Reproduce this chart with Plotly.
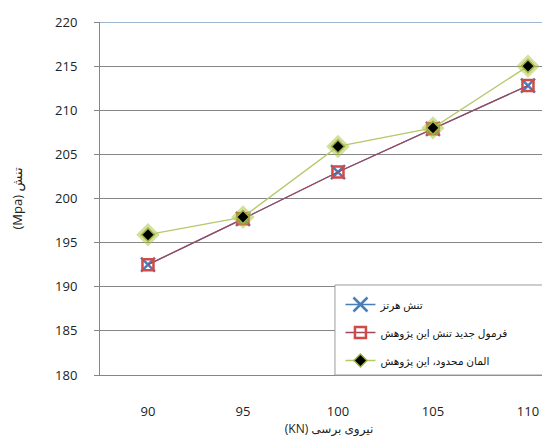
import plotly.graph_objects as go

categories = ["90", "95", "100", "105", "110"]
hertz = [192.5, 197.7, 203.0, 207.9, 212.8]
formula = [192.5, 197.7, 203.0, 207.9, 212.8]
fem = [195.9, 197.9, 205.9, 208.0, 215.0]
names = ["تنش هرتز", "فرمول جدید تنش این پژوهش", "المان محدود، این پژوهش"]
yticks = [180, 185, 190, 195, 200, 205, 210, 215, 220]

fig = go.Figure()
fig.add_trace(go.Scatter(
    x=categories, y=hertz, name=names[0], mode="lines+markers", legendgroup="a",
    line=dict(color="#4a7ebb", width=1.3),
    marker=dict(symbol="x-thin", size=14, line=dict(color="#4a7ebb", width=2.5), color="#4a7ebb"),
))
fig.add_trace(go.Scatter(
    x=categories, y=formula, name=names[1], mode="lines+markers", legendgroup="b",
    line=dict(color="#a0475a", width=1.3),
    marker=dict(symbol="square-open", size=11, line=dict(color="#d04a48", width=2.5), color="#d04a48"),
))
# glow for FEM markers
fig.add_trace(go.Scatter(
    x=categories, y=fem, mode="markers", showlegend=False, hoverinfo="skip", legendgroup="c",
    marker=dict(symbol="diamond", size=18, color="rgba(170,190,60,0.5)", line=dict(width=0)),
))
fig.add_trace(go.Scatter(
    x=categories, y=fem, name=names[2], mode="lines+markers", legendgroup="c",
    line=dict(color="#b5c96a", width=1.3),
    marker=dict(symbol="diamond", size=10, color="#000000", line=dict(color="#9bb53c", width=1.5)),
))

fig.update_layout(
    width=550, height=436,
    margin=dict(l=92, r=0, t=14, b=69),
    paper_bgcolor="white", plot_bgcolor="white",
    font=dict(family="Open Sans, DejaVu Sans", size=13, color="#222222"),
    showlegend=True,
    legend=dict(
        x=0.525, y=0.0, xanchor="left", yanchor="bottom",
        bgcolor="rgba(0,0,0,0)", borderwidth=0,
        font=dict(size=10.5, family="Noto Sans, DejaVu Sans", color="#111111"),
        traceorder="grouped", tracegroupgap=9,
    ),
    xaxis=dict(
        type="category", range=[-0.505, 4.316],
        showgrid=False, showline=True, linecolor="#868686", linewidth=1,
        ticks="", ticklabelstandoff=24,
        tickfont=dict(size=13),
        title=dict(text="(KN) نیروی برسی", font=dict(size=12), standoff=0),
    ),
    yaxis=dict(
        range=[180, 220], tickvals=yticks,
        showgrid=True, gridcolor="#868686", gridwidth=1,
        showline=True, linecolor="#868686", linewidth=1,
        ticks="outside", ticklen=5, tickcolor="#868686",
        ticklabelstandoff=14, zeroline=False,
        tickfont=dict(size=13),
        title=dict(text="(Mpa) تنش", font=dict(size=13), standoff=30),
    ),
)
fig.add_shape(type="line", xref="paper", yref="y", x0=0, x1=1, y0=220, y1=220,
              line=dict(color="#7f9fc0", width=1.5))
# legend box extending to the right edge
fig.add_shape(type="rect", xref="paper", yref="paper", x0=0.513, x1=1.2, y0=0.0, y1=0.255,
              fillcolor="white", line=dict(color="#9a9a9a", width=1), layer="above")
fig.write_html("out.html")
